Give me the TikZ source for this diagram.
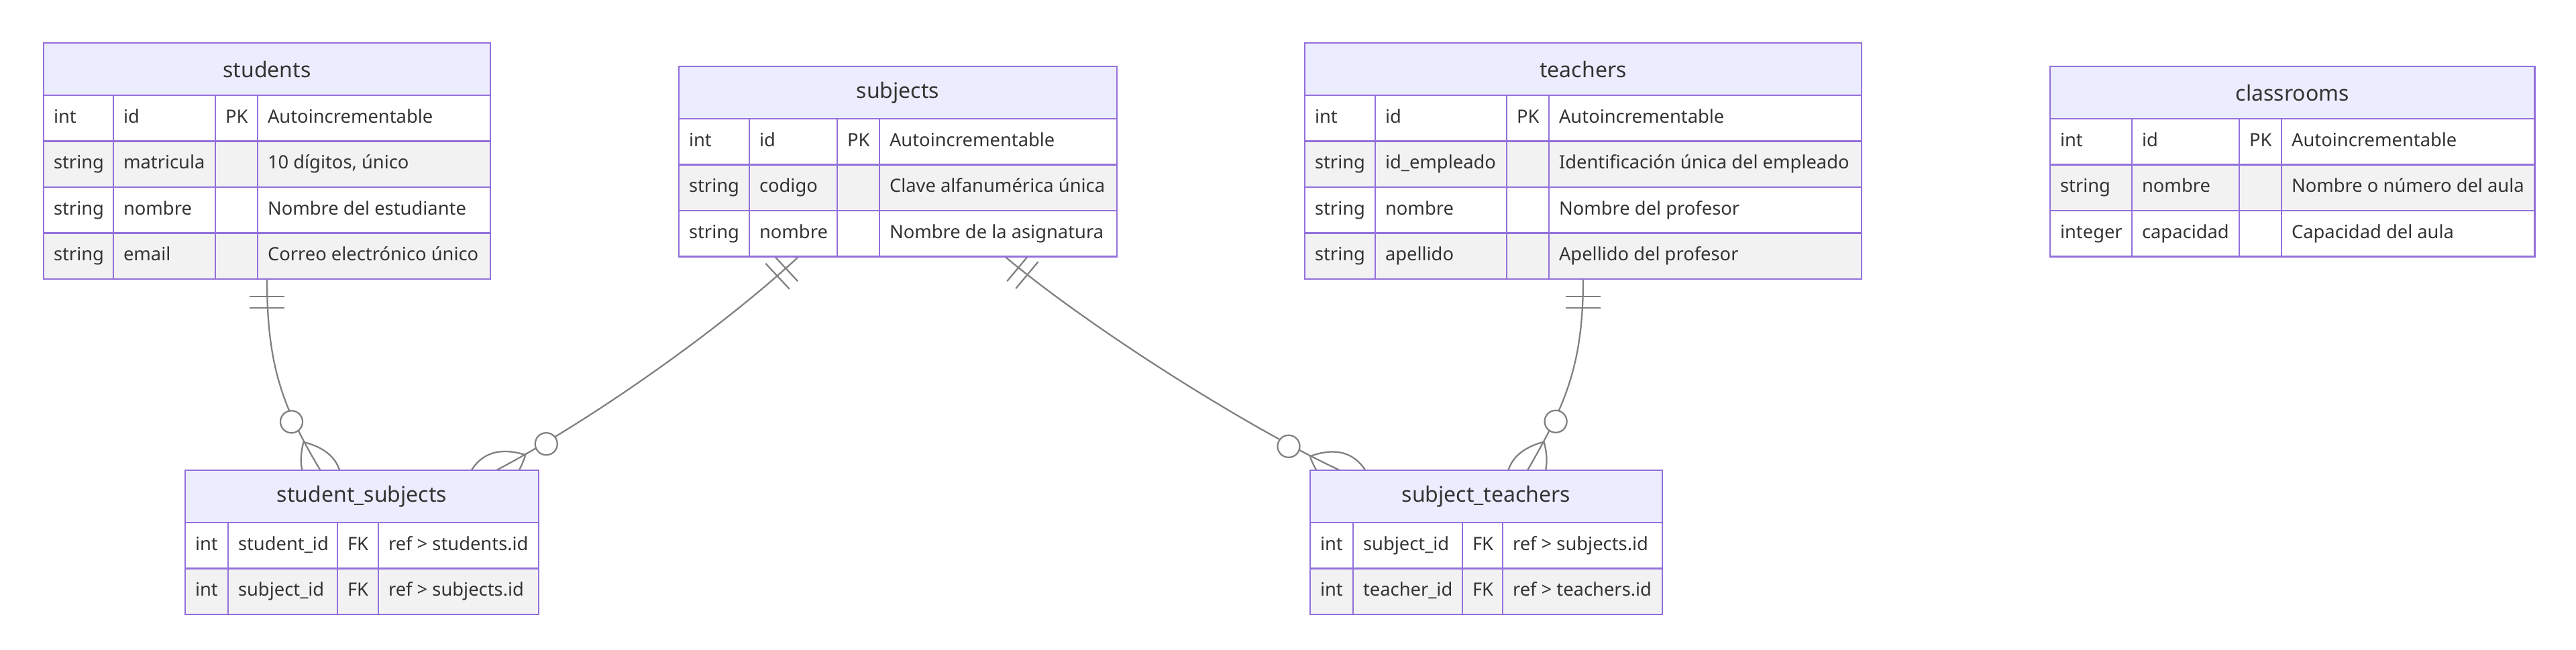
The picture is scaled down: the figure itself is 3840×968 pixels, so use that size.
\documentclass[tikz,border=0pt]{standalone}
\usepackage{fontspec}
\setmainfont{Noto Sans}
\usetikzlibrary{positioning, calc, backgrounds}
\definecolor{ERBorder}{HTML}{9370DB}
\definecolor{ERHead}{HTML}{ECECFF}
\definecolor{ERRow}{HTML}{F2F2F2}
\definecolor{ERText}{HTML}{333333}
\definecolor{ERLine}{HTML}{808080}

% table: name, title, north west corner, four column widths (pt), rows
\newcommand{\entity}[8]{%
  \pgfmathsetmacro\colA{#4-22.5}%
  \pgfmathsetmacro\colB{#5-22.5}%
  \pgfmathsetmacro\colC{#6-22.5}%
  \pgfmathsetmacro\colD{#7-22.5}%
  \pgfmathsetmacro\tabw{#4+#5+#6+#7}%
  \node[head, minimum width=\tabw pt] (#1) at #3 {#2};
  \foreach \ty/\nm/\ky/\cm [count=\i] in {#8} {
    \ifodd\i \def\rowfill{white}\else \def\rowfill{ERRow}\fi
    \node[cell, fill=\rowfill, minimum width=#4pt] (#1-\i-1) at ($(#1.south west)+(0,{(\i-1)*68.5})$) {\makebox[\colA pt][l]{\ty}};
    \node[cell, fill=\rowfill, minimum width=#5pt, right=0pt of #1-\i-1] (#1-\i-2) {\makebox[\colB pt][l]{\nm}};
    \node[cell, fill=\rowfill, minimum width=#6pt, right=0pt of #1-\i-2] (#1-\i-3) {\makebox[\colC pt][l]{\ky}};
    \node[cell, fill=\rowfill, minimum width=#7pt, right=0pt of #1-\i-3] (#1-\i-4) {\makebox[\colD pt][l]{\cm}};
  }
}

% exactly one: two bars near the end #1, line heading to #2
\newcommand{\onemark}[2]{%
  \foreach \dist in {19.5pt, 32.25pt} {
    \coordinate (bar) at ($(#1)!\dist!(#2)$);
    \draw[rel] ($(bar)!19.5pt!90:(#2)$) -- ($(bar)!19.5pt!-90:(#2)$);
  }
}

% zero or more: circle and crow's foot at the end #1, line heading to #2
\newcommand{\manymark}[2]{%
  \coordinate (tip) at ($(#1)!36.75pt!(#2)$);
  \coordinate (back) at ($(#1)!-41.25pt!(#2)$);
  \coordinate (mid) at ($(#1)!-2.25pt!(#2)$);
  \coordinate (qa) at ($(mid)!39pt!90:(#2)$);
  \coordinate (qb) at ($(mid)!39pt!-90:(#2)$);
  \draw[rel] (tip) .. controls ($(tip)!0.667!(qa)$) and ($(back)!0.667!(qa)$) .. (back)
    .. controls ($(back)!0.667!(qb)$) and ($(tip)!0.667!(qb)$) .. (tip);
  \draw[rel, fill=white] ($(#1)!63pt!(#2)$) circle[radius=12.4pt];
}

\begin{document}
\begin{tikzpicture}[
        x=0.75pt, y=-0.75pt,
        node distance=0pt,
        head/.style={rectangle, draw=ERBorder, fill=ERHead, line width=1.9pt, outer sep=0pt, anchor=north west, minimum height=58.5pt, font=\fontsize{24}{28}\selectfont, text=ERText},
        cell/.style={rectangle, draw=ERBorder, line width=1.9pt, outer sep=0pt, anchor=north west, inner xsep=11.25pt, inner ysep=0pt, minimum height=51.375pt, text height=15pt, text depth=4.5pt, font=\fontsize{20.5}{24}\selectfont, text=ERText},
        rel/.style={draw=ERLine, line width=1.7pt}
    ]
        \useasboundingbox (0,0) rectangle (3840,968);

        % Tables
        \entity{students}{students}{(65,64)}{78}{114}{47.25}{260.25}{int/id/PK/Autoincrementable,
            string/matricula//{10 dígitos, único}, string/nombre//Nombre del estudiante,
            string/email//Correo electrónico único}
        \entity{subjects}{subjects}{(1012,99)}{78.75}{98.25}{47.25}{265.5}{int/id/PK/Autoincrementable,
            string/codigo//Clave alfanumérica única, string/nombre//Nombre de la asignatura}
        \entity{teachers}{teachers}{(1945,64)}{78.75}{147}{47.25}{349.5}{int/id/PK/Autoincrementable,
            string/id\_empleado//Identificación única del empleado, string/nombre//Nombre del profesor,
            string/apellido//Apellido del profesor}
        \entity{classrooms}{classrooms}{(3056,99)}{91.5}{120}{47.25}{283}{int/id/PK/Autoincrementable,
            string/nombre//Nombre o número del aula, integer/capacidad//Capacidad del aula}
        \entity{studsubj}{student\_subjects}{(276,701)}{48}{122.25}{45.75}{179.25}{int/student\_id/FK/ref > students.id,
            int/subject\_id/FK/ref > subjects.id}
        \entity{subjteach}{subject\_teachers}{(1953,701)}{48}{122.25}{45}{178.5}{int/subject\_id/FK/ref > subjects.id,
            int/teacher\_id/FK/ref > teachers.id}

        % Relations
        \begin{scope}[on background layer]
            % students -- student_subjects
            \coordinate (s1) at (students.south |- students-4-1.south);
            \coordinate (e1) at ($(studsubj.north)+(-62,0)$);
            \coordinate (s1c) at ($(s1)+(0,130)$);
            \coordinate (e1c) at ($(e1)+(-56,-94)$);
            \draw[rel] (s1) .. controls (s1c) and (e1c) .. (e1);
            \onemark{s1}{s1c}
            \manymark{e1}{e1c}

            % subjects -- student_subjects
            \coordinate (s2) at ($(subjects-3-2.south)+(8,0)$);
            \coordinate (e2) at ($(studsubj.north)+(200.5,0)$);
            \coordinate (s2c) at ($(s2)+(-115,107)$);
            \coordinate (e2c) at ($(e2)+(142,-75)$);
            \draw[rel] (s2) .. controls (s2c) and (e2c) .. (e2);
            \onemark{s2}{s2c}
            \manymark{e2}{e2c}

            % subjects -- subject_teachers
            \coordinate (s3) at ($(subjects-3-4.south)+(10,0)$);
            \coordinate (e3) at ($(subjteach.north)+(-218.5,0)$);
            \coordinate (s3c) at ($(s3)+(123,103)$);
            \coordinate (e3c) at ($(e3)+(-145,-68)$);
            \draw[rel] (s3) .. controls (s3c) and (e3c) .. (e3);
            \onemark{s3}{s3c}
            \manymark{e3}{e3c}

            % teachers -- subject_teachers
            \coordinate (s4) at (teachers.south |- teachers-4-1.south);
            \coordinate (e4) at ($(subjteach.north)+(61.5,0)$);
            \coordinate (s4c) at ($(s4)+(0,130)$);
            \coordinate (e4c) at ($(e4)+(55,-95)$);
            \draw[rel] (s4) .. controls (s4c) and (e4c) .. (e4);
            \onemark{s4}{s4c}
            \manymark{e4}{e4c}
        \end{scope}

    \end{tikzpicture}
\end{document}
